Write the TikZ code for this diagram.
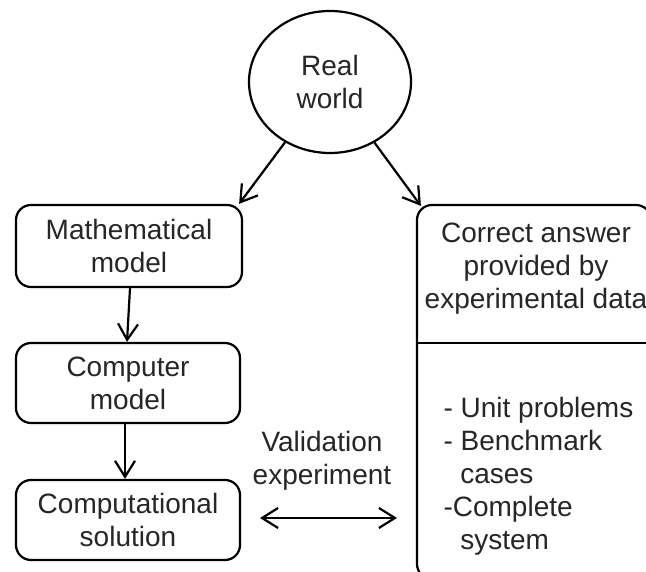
\documentclass[tikz,border=0pt]{standalone}
\usepackage{fontspec}
\setmainfont{Liberation Sans}
\usetikzlibrary{arrows.meta,shapes.geometric}
\begin{document}
\begin{tikzpicture}[x=1pt,y=1pt,
  every node/.style={font=\fontsize{28}{33}\selectfont, text=black!85},
  box/.style={draw=black, line width=2.2pt, rounded corners=15pt, align=center, inner sep=0pt},
  arr/.style={draw=black, line width=2.2pt, -{Straight Barb[length=16pt,width=20pt]}},
  darr/.style={draw=black, line width=2.2pt, {Straight Barb[length=16pt,width=20pt]}-{Straight Barb[length=16pt,width=20pt]}}]
\useasboundingbox (0,0) rectangle (646,572);
\fill[white] (0,0) rectangle (646,572);
% Real world
\node[draw=black, line width=2.2pt, ellipse, minimum width=162pt, minimum height=142pt, inner sep=0pt, align=center] (real) at (330,490) {Real\\world};
% left column
\node[box, minimum width=226pt, minimum height=82pt] (math) at (129,326) {Mathematical\\model};
\node[box, minimum width=224pt, minimum height=80pt] (comp) at (128,189) {Computer\\model};
\node[box, minimum width=224pt, minimum height=80pt] (sol) at (128,52) {Computational\\solution};
% right box
\node[box, minimum width=234pt, minimum height=374pt] (ans) at (534,180) {};
\coordinate (dl) at (417,229);
\coordinate (dr) at (651,229);
\draw[line width=2.2pt] (dl) -- (dr);
\node[align=center] (anstop) at (536,303) {Correct answer\\provided by\\experimental data};
\node[align=left, anchor=north west] (anslist) at (440,178) {- Unit problems\\- Benchmark\\\hspace*{0.6em}cases\\-Complete\\\hspace*{0.6em}system};
% validation label
\node[align=center] (val) at (322,111) {Validation\\experiment};
% connectors
\draw[arr] (real) -- ([xshift=-4pt]math.north east);
\draw[arr] (real) -- ([xshift=5pt,yshift=-2pt]ans.north west);
\draw[arr] ([xshift=1pt]math.south) -- ([xshift=-1pt]comp.north);
\draw[arr] ([xshift=-3pt]comp.south) -- ([xshift=-3pt]sol.north);
\coordinate (va) at (260,54);
\coordinate (vb) at (397,54);
\draw[darr] (va) -- (vb);
\end{tikzpicture}
\end{document}
